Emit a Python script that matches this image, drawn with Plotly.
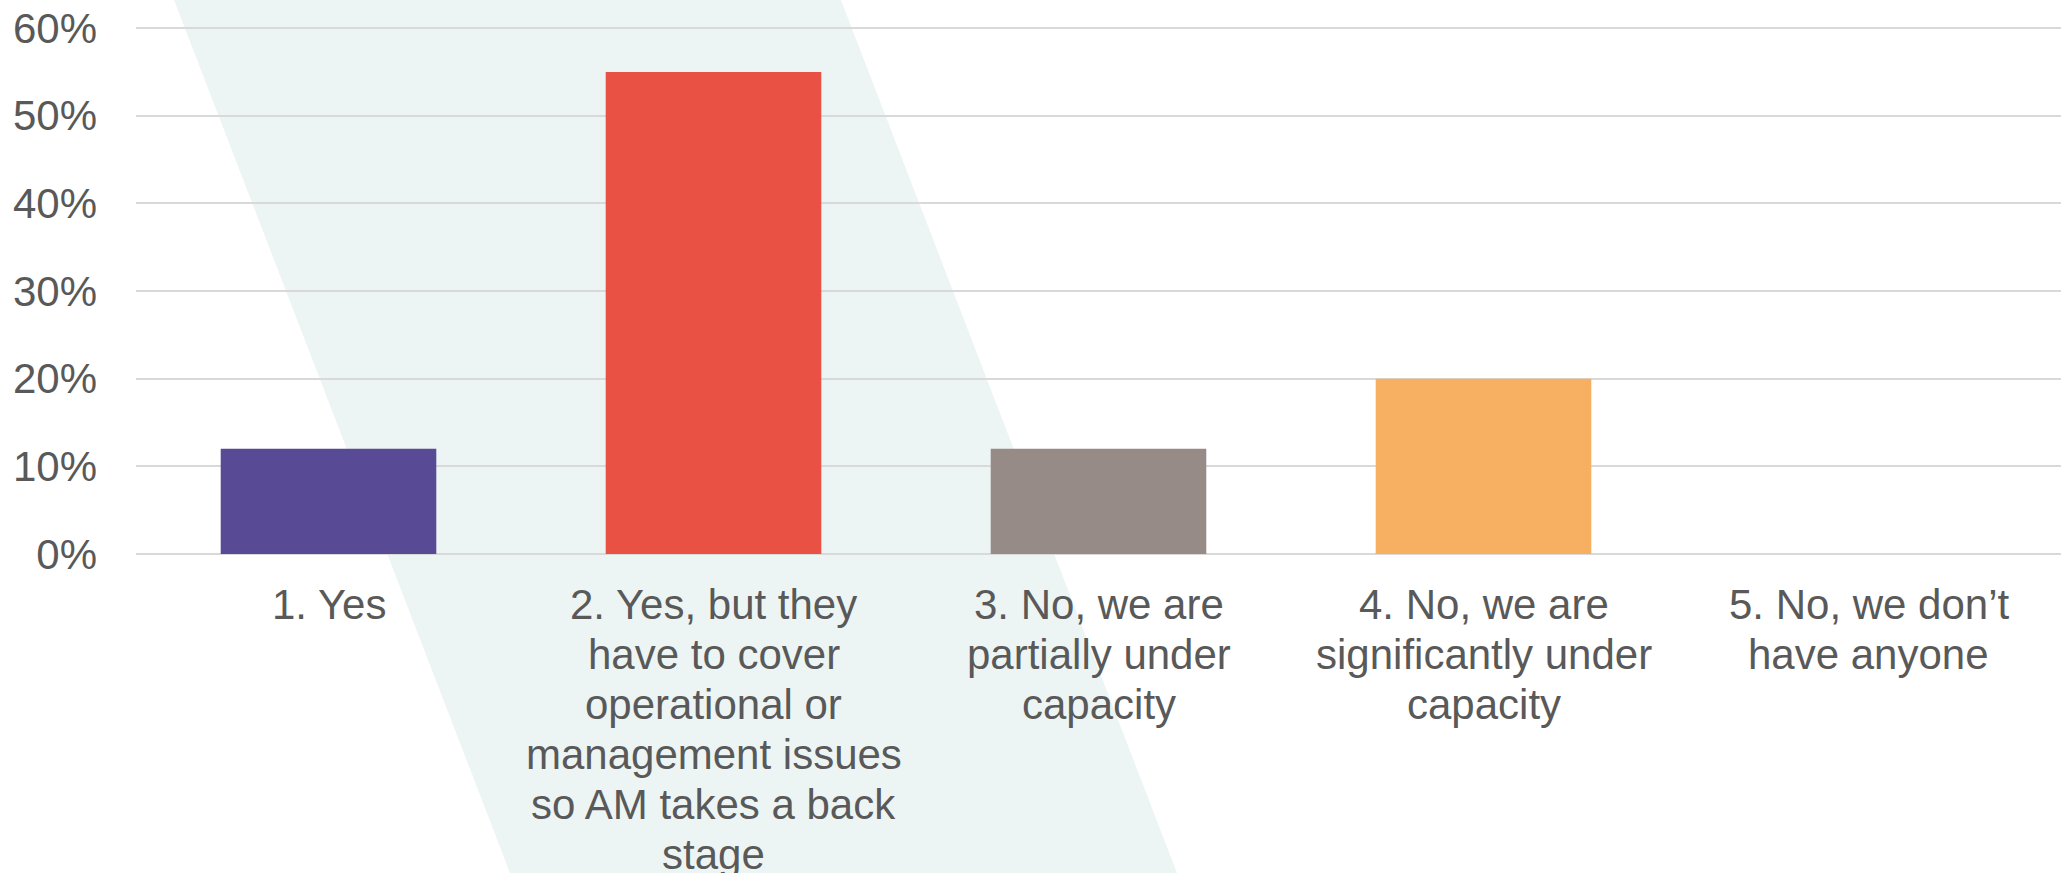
import plotly.graph_objects as go

# ---- data ----
categories = [
    "1. Yes",
    "2. Yes, but they have to cover operational or management issues so AM takes a back stage",
    "3. No, we are partially under capacity",
    "4. No, we are significantly under capacity",
    "5. No, we don’t have anyone",
]
label_lines = [
    ["1. Yes"],
    ["2. Yes, but they", "have to cover", "operational or", "management issues", "so AM takes a back", "stage"],
    ["3. No, we are", "partially under", "capacity"],
    ["4. No, we are", "significantly under", "capacity"],
    ["5. No, we don’t", "have anyone"],
]
values = [0.12, 0.55, 0.12, 0.20, 0.0]
y_ticks = [0, 0.1, 0.2, 0.3, 0.4, 0.5, 0.6]
y_tick_labels = ["0%", "10%", "20%", "30%", "40%", "50%", "60%"]

# ---- style ----
bar_colors = ["#594A96", "#E85143", "#968B86", "#F7AF62", "#5FA8A0"]
text_color = "#595959"
grid_color = "#D9D9D9"
band_color = "#EDF5F4"
font_family = "Arial, 'Liberation Sans', sans-serif"

W, H = 2061, 873
ML, MR, MT, MB = 136, 0, 27, 319
plot_w = W - ML - MR
plot_h = H - MT - MB
y_max = 0.6012

def px_to_paper(px, py):
    return (px - ML) / plot_w, (H - MB - py) / plot_h

band_pts = [(174, 0), (841, 0), (1177, H), (510, H)]
path = ""
for i, (px, py) in enumerate(band_pts):
    x, y = px_to_paper(px, py)
    path += ("M" if i == 0 else "L") + f"{x:.5f},{y:.5f} "
path += "Z"

fig = go.Figure()
fig.add_trace(go.Bar(
    x=categories,
    y=values,
    marker=dict(color=bar_colors, line=dict(width=0)),
    width=0.56,
    hoverinfo="skip",
))

annotations = []
line_step = 50
first_offset = 50
for cat, lines in zip(categories, label_lines):
    for i, line in enumerate(lines):
        annotations.append(dict(
            x=cat, xref="x", y=0, yref="paper",
            yanchor="middle", xanchor="center",
            yshift=-(first_offset + i * line_step),
            text=line, showarrow=False,
            font=dict(family=font_family, size=42, color=text_color),
        ))

fig.update_layout(
    width=W, height=H,
    margin=dict(l=ML, r=MR, t=MT, b=MB, pad=0),
    paper_bgcolor="white",
    plot_bgcolor="rgba(0,0,0,0)",
    showlegend=False,
    font=dict(family=font_family, size=42, color=text_color),
    shapes=[dict(type="path", path=path, xref="paper", yref="paper",
                 fillcolor=band_color, line=dict(width=0), layer="below")],
    annotations=annotations,
    xaxis=dict(showticklabels=False, showgrid=False, zeroline=False,
               showline=False, ticks="", range=[-0.5, 4.5]),
    yaxis=dict(range=[0, y_max], tickvals=y_ticks, ticktext=y_tick_labels,
               showgrid=True, gridcolor=grid_color, gridwidth=2,
               zeroline=True, zerolinecolor=grid_color, zerolinewidth=2,
               showline=False, ticks="", ticklabelstandoff=38,
               tickfont=dict(family=font_family, size=42, color=text_color)),
)

fig.write_html("out.html")
